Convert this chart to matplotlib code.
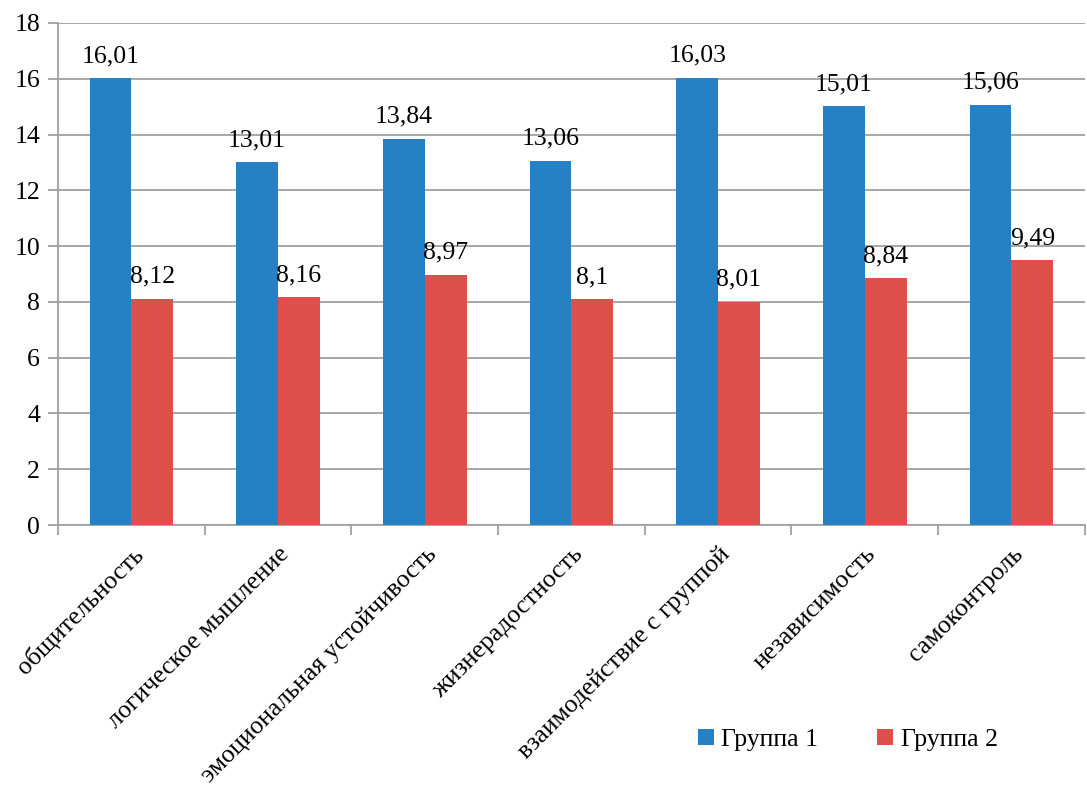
import matplotlib.pyplot as plt
from matplotlib import font_manager as fm
import numpy as np

# Times-like serif, loaded straight from its file
serif_path = fm.findfont(fm.FontProperties(family='Liberation Serif'))
FS = 18.5
font = fm.FontProperties(fname=serif_path, size=FS)

categories = ['общительность', 'логическое мышление', 'эмоциональная устойчивость',
              'жизнерадостность', 'взаимодействие с группой', 'независимость', 'самоконтроль']
group1 = [16.01, 13.01, 13.84, 13.06, 16.03, 15.01, 15.06]
group2 = [8.12, 8.16, 8.97, 8.1, 8.01, 8.84, 9.49]
series_names = ['Группа 1', 'Группа 2']
colors = ['#2581c4', '#de4f4c']

fig = plt.figure(figsize=(10.87, 7.90), dpi=100)
ax = fig.add_axes([0.0534, 0.3354, 0.9446, 0.6355])

x = np.arange(len(categories))
w = 0.285
b1 = ax.bar(x - w / 2, group1, w, color=colors[0], label=series_names[0], zorder=3)
b2 = ax.bar(x + w / 2, group2, w, color=colors[1], label=series_names[1], zorder=3)

def fmt(v):
    return ('%g' % v).replace('.', ',')

for bars, vals in ((b1, group1), (b2, group2)):
    for rect, v in zip(bars, vals):
        ax.text(rect.get_x() + rect.get_width() / 2, v + 0.4, fmt(v),
                ha='center', va='bottom', fontproperties=font)

ax.set_ylim(0, 18)
ax.set_yticks(range(0, 19, 2))
ax.set_yticklabels([str(t) for t in range(0, 19, 2)], fontproperties=font)
ax.set_xlim(-0.5, len(categories) - 0.5)
ax.yaxis.grid(True, color='#a0a0a0', linewidth=1.3, zorder=0)

# category boundaries as ticks, labels on the centres
ax.set_xticks(np.arange(len(categories) + 1) - 0.5)
ax.set_xticklabels([])
ax.set_xticks(x, minor=True)
ax.set_xticklabels(categories, minor=True, rotation=45, ha='right',
                   rotation_mode='anchor', fontproperties=font)
ax.tick_params(axis='x', which='minor', length=0, pad=13)
ax.tick_params(axis='x', which='major', length=7, color='#a0a0a0', width=1.3)
ax.tick_params(axis='y', length=7, color='#a0a0a0', width=1.3, pad=6)

for s in ('top', 'right'):
    ax.spines[s].set_visible(False)
for s in ('left', 'bottom'):
    ax.spines[s].set_color('#a0a0a0')
    ax.spines[s].set_linewidth(1.3)

fig.legend(handles=[b1, b2], loc='center', bbox_to_anchor=(0.78, 0.063), ncol=2,
           frameon=False, prop=font,
           handlelength=0.6, handleheight=0.6, columnspacing=2.3, handletextpad=0.3)

fig.savefig('out.png', dpi=100)
